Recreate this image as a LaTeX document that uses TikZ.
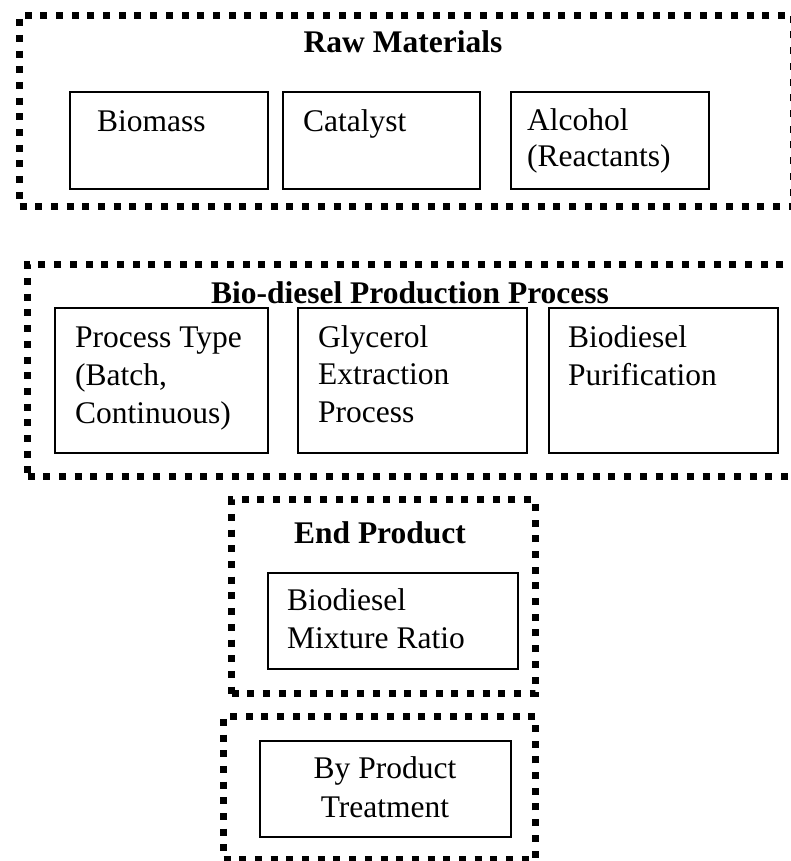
\documentclass[tikz,border=0pt]{standalone}
\usepackage{fontspec}
\setmainfont{Liberation Serif}
\begin{document}
\begin{tikzpicture}[x=1pt,y=-1pt,
  font=\fontsize{31.5pt}{38pt}\selectfont,
  group/.style={draw=black, line width=7pt, dash pattern=on 7pt off 8.7pt, inner sep=0pt, anchor=north west},
  box/.style={draw=black, line width=1.6pt, inner sep=0pt, anchor=north west},
  lbl/.style={inner sep=0pt, anchor=base west},
  ttl/.style={inner sep=0pt, anchor=base, font=\fontsize{31.5pt}{38pt}\selectfont\bfseries},
  ctr/.style={inner sep=0pt, anchor=base}]
\useasboundingbox (0,0) rectangle (790,861);
% group frames
\node[group, minimum width=774pt, minimum height=191pt] (gA) at (16,12) {};
\node[group, minimum width=790pt, minimum height=212pt] (gB) at (24,261) {};
\node[group, minimum width=304pt, minimum height=194pt] (gC) at (228,496) {};
\node[group, minimum width=312pt, minimum height=143pt] (gD) at (220,713) {};
% titles
\node[ttl] (tA) at (403,53) {Raw Materials};
\node[ttl] (tB) at (410,303) {Bio-diesel Production Process};
\node[ttl] (tC) at (380,543) {End Product};
% raw materials boxes
\node[box, minimum width=198pt, minimum height=97pt] (a1) at (69,91) {};
\node[box, minimum width=197pt, minimum height=97pt] (a2) at (282,91) {};
\node[box, minimum width=198pt, minimum height=97pt] (a3) at (510,91) {};
\node[lbl] (a1t) at (97,132) {Biomass};
\node[lbl] (a2t) at (303,132) {Catalyst};
\node[lbl] (a3t) at (527,131) {Alcohol};
\node[lbl] (a3u) at (527,167) {(Reactants)};
% production process boxes
\node[box, minimum width=213pt, minimum height=145pt] (b1) at (54,307) {};
\node[box, minimum width=229pt, minimum height=145pt] (b2) at (297,307) {};
\node[box, minimum width=229pt, minimum height=145pt] (b3) at (548,307) {};
\node[lbl] (b1t) at (75,347) {Process Type};
\node[lbl] (b1u) at (75,385) {(Batch,};
\node[lbl] (b1v) at (75,423) {Continuous)};
\node[lbl] (b2t) at (318,347) {Glycerol};
\node[lbl] (b2u) at (318,384.5) {Extraction};
\node[lbl] (b2v) at (318,422) {Process};
\node[lbl] (b3t) at (568,347) {Biodiesel};
\node[lbl] (b3u) at (568,385) {Purification};
% end product
\node[box, minimum width=250pt, minimum height=96pt] (c1) at (267,572) {};
\node[lbl] (c1t) at (287,610) {Biodiesel};
\node[lbl] (c1u) at (287,648) {Mixture Ratio};
% by product
\node[box, minimum width=251pt, minimum height=96pt] (d1) at (259,740) {};
\node[ctr] (d1t) at (385,778) {By Product};
\node[ctr] (d1u) at (385,817) {Treatment};
\end{tikzpicture}
\end{document}
